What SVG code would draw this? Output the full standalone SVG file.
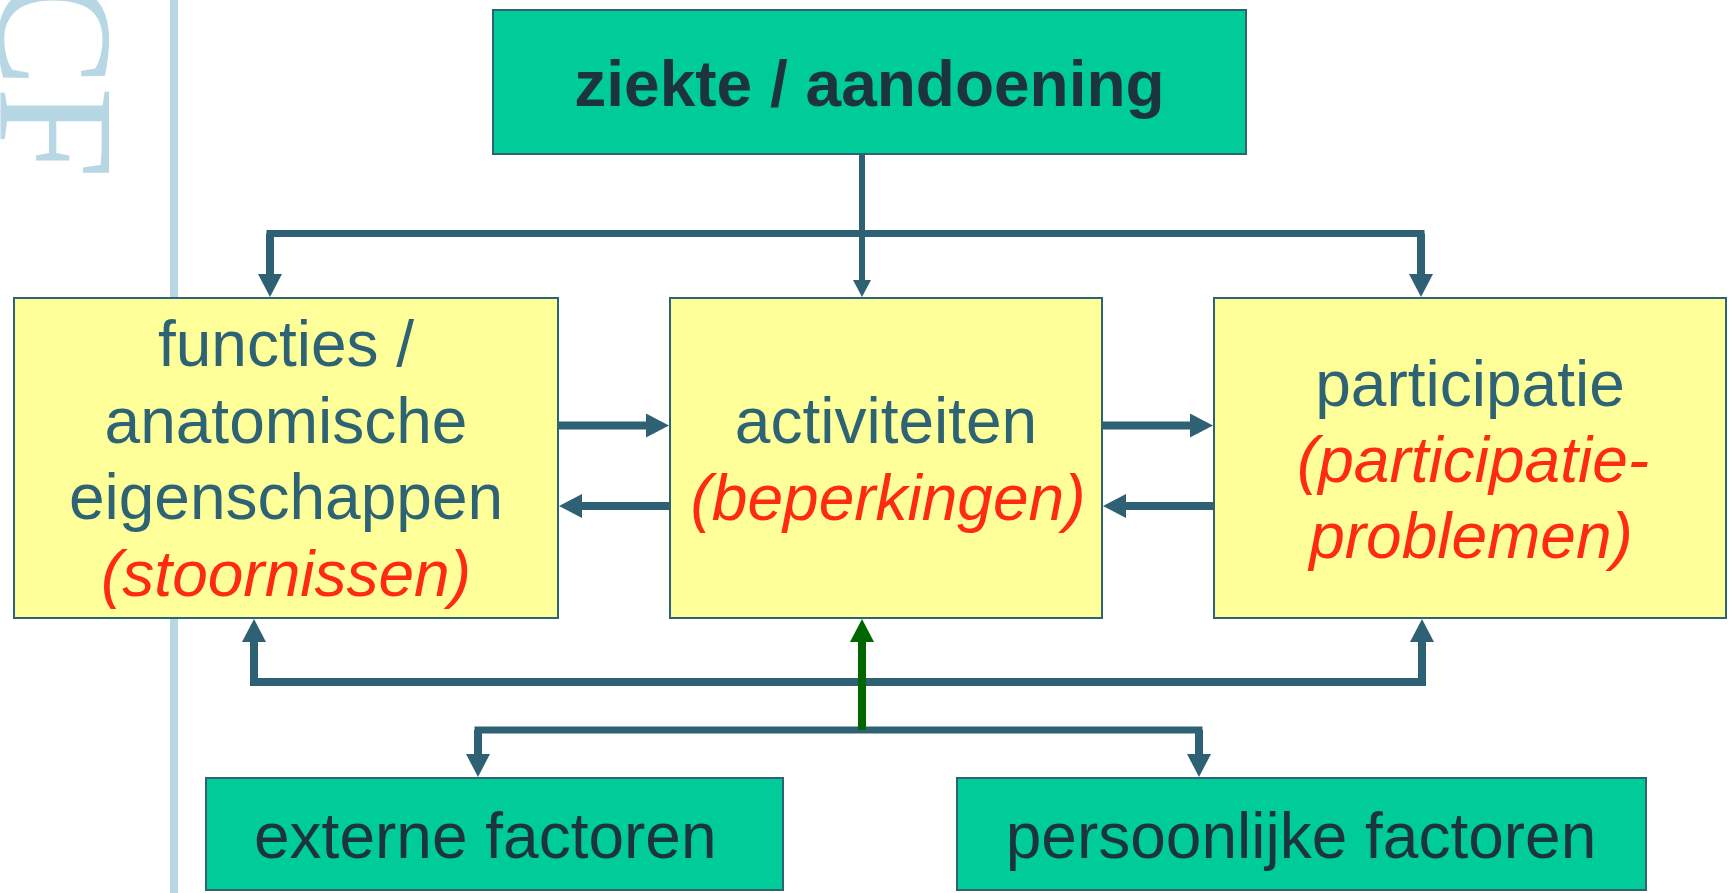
<svg xmlns="http://www.w3.org/2000/svg" width="1729" height="893" viewBox="0 0 1729 893">
  <style>
    .green { fill: #00CC99; stroke: #2E6275; stroke-width: 2; }
    .yellow { fill: #FFFF99; stroke: #2E6275; stroke-width: 2; }
    .t { font-family: "Liberation Sans", Arial, sans-serif; font-size: 64px; text-anchor: middle; fill: #2E6275; }
    .r { fill: #FF2A14; font-style: italic; }
    .dark { fill: #1C3440; }
    .b { font-weight: bold; font-size: 64px; }
    .c { fill: none; stroke: #2E6173; stroke-width: 8; stroke-linecap: square; }
    .c7 { stroke-width: 7; }
    .g { fill: none; stroke: #006600; stroke-width: 8; }
  </style>
  <defs>
    <marker id="ah" markerUnits="userSpaceOnUse" markerWidth="24" markerHeight="24" refX="0" refY="12" orient="auto" overflow="visible">
      <path d="M0,0 L23,12 L0,24 Z" fill="#2E6173"/>
    </marker>
    <marker id="ahs" markerUnits="userSpaceOnUse" markerWidth="17" markerHeight="18" refX="0" refY="9" orient="auto" overflow="visible">
      <path d="M0,0 L17,9 L0,18 Z" fill="#2E6173"/>
    </marker>
    <marker id="ahg" markerUnits="userSpaceOnUse" markerWidth="24" markerHeight="24" refX="0" refY="12" orient="auto" overflow="visible">
      <path d="M0,0 L23,12 L0,24 Z" fill="#006600"/>
    </marker>
  </defs>

  <rect x="0" y="0" width="1729" height="893" fill="#FFFFFF"/>

  <g id="decor">
    <rect x="170" y="0" width="8" height="893" fill="#B7D7E4"/>
    <text transform="translate(0,-78) rotate(90)" x="0" y="0" font-family="'Liberation Serif', 'Times New Roman', serif" font-size="165" fill="#B7D7E4">ICF</text>
  </g>

  <g id="connectors">
    <path class="c" style="stroke-width:6;stroke-linecap:butt" d="M862,154 V280" marker-end="url(#ahs)"/>
    <path class="c c7" d="M270,233.5 H1421"/>
    <path class="c" style="stroke-linecap:butt" d="M270,233.5 V274" marker-end="url(#ah)"/>
    <path class="c" style="stroke-linecap:butt" d="M1421,233.5 V274" marker-end="url(#ah)"/>

    <path class="c" style="stroke-linecap:butt" d="M558,425.5 H646" marker-end="url(#ah)"/>
    <path class="c" style="stroke-linecap:butt" d="M1102,425.5 H1190" marker-end="url(#ah)"/>
    <path class="c" style="stroke-linecap:butt" d="M669,506 H582" marker-end="url(#ah)"/>
    <path class="c" style="stroke-linecap:butt" d="M1213,506 H1126" marker-end="url(#ah)"/>

    <path class="c" d="M254,682 H1422"/>
    <path class="c" style="stroke-linecap:butt" d="M254,682 V642" marker-end="url(#ah)"/>
    <path class="c" style="stroke-linecap:butt" d="M1422,682 V642" marker-end="url(#ah)"/>

    <path class="c c7" d="M478,730 H1199"/>
    <path class="c" style="stroke-linecap:butt" d="M478,730 V754" marker-end="url(#ah)"/>
    <path class="c" style="stroke-linecap:butt" d="M1199,730 V754" marker-end="url(#ah)"/>

    <path class="g" d="M862,730 V642" marker-end="url(#ahg)"/>
  </g>

  <g id="ziekte">
    <rect class="green" x="493" y="10" width="753" height="144"/>
    <text class="t b dark" x="869.5" y="106">ziekte / aandoening</text>
  </g>

  <g id="functies">
    <rect class="yellow" x="14" y="298" width="544" height="320"/>
    <text class="t" x="286" y="366">functies /</text>
    <text class="t" x="286" y="443">anatomische</text>
    <text class="t" x="286" y="519">eigenschappen</text>
    <text class="t r" x="286" y="596">(stoornissen)</text>
  </g>

  <g id="activiteiten">
    <rect class="yellow" x="670" y="298" width="432" height="320"/>
    <text class="t" x="886" y="443">activiteiten</text>
    <text class="t r" x="888" y="520">(beperkingen)</text>
  </g>

  <g id="participatie">
    <rect class="yellow" x="1214" y="298" width="512" height="320"/>
    <text class="t" x="1470" y="406">participatie</text>
    <text class="t r" x="1473" y="482">(participatie-</text>
    <text class="t r" x="1471" y="558">problemen)</text>
  </g>

  <g id="externe">
    <rect class="green" x="206" y="778" width="577" height="112"/>
    <text class="t dark" x="254" y="858" style="text-anchor:start">externe factoren</text>
  </g>

  <g id="persoonlijke">
    <rect class="green" x="957" y="778" width="689" height="112"/>
    <text class="t dark" x="1301" y="858">persoonlijke factoren</text>
  </g>
</svg>
